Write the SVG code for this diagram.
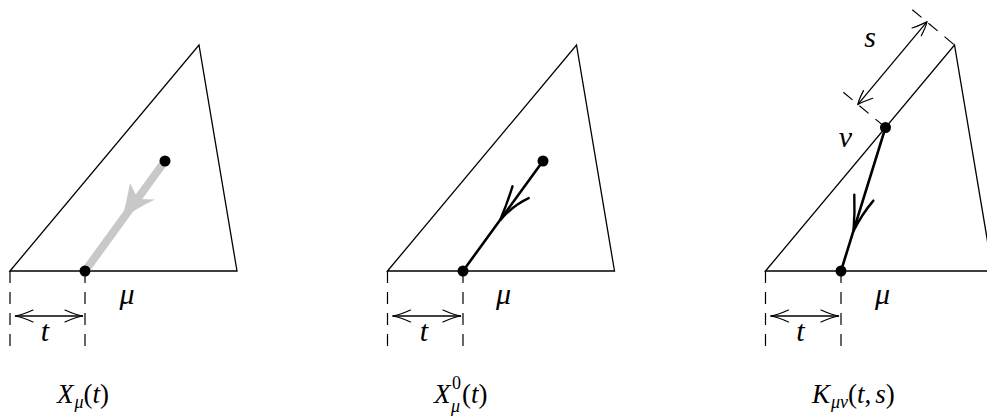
<svg xmlns="http://www.w3.org/2000/svg" width="987" height="417" viewBox="0 0 987 417">
<style>
.thin{fill:none;stroke:#000;stroke-width:1.3}
.dash{fill:none;stroke:#000;stroke-width:1.2;stroke-dasharray:12 9}
.thick{fill:none;stroke:#000;stroke-width:2.6;stroke-linecap:round}
.barb{fill:none;stroke:#000;stroke-width:1.2;stroke-linecap:round}
.hbarb{fill:none;stroke:#000;stroke-width:2.4;stroke-linecap:round}
.dot{fill:#000}
.lbl{font-family:"Liberation Serif","DejaVu Serif",serif;font-size:30px;fill:#000}
.cap{font-family:"Liberation Serif","DejaVu Serif",serif;font-size:27px;fill:#000}
.it{font-style:italic}
.sub{font-size:18px;font-style:italic}
.sup{font-size:18px}
</style>

<g id="panel1">
  <polygon class="thin" points="10,271 199,45 237,271"/>
  <line class="dash" x1="10" y1="271" x2="10" y2="347"/>
  <line class="dash" x1="85" y1="271" x2="85" y2="347"/>
  <g id="t1">
    <line class="thin" x1="15" y1="316" x2="83" y2="316"/>
    <path class="barb" d="M33,310 Q22,315 15,316 Q22,317 33,322"/>
    <path class="barb" d="M65,310 Q76,315 83,316 Q76,317 65,322"/>
    <text class="lbl it" x="45" y="341" text-anchor="middle">t</text>
  </g>
  <text class="lbl it" x="127" y="304" text-anchor="middle">μ</text>
  <g id="grayarrow">
    <line x1="165" y1="161" x2="85" y2="271" stroke="#c8c8c8" stroke-width="8"/>
    <path d="M122,219 Q127,200 130,183 L138,199 L155,199.5 Q137,208 122,219 Z" fill="#c8c8c8"/>
  </g>
  <circle class="dot" cx="165" cy="161" r="5.5"/>
  <circle class="dot" cx="85" cy="271" r="5.5"/>
  <text class="cap" x="57" y="403"><tspan class="it">X</tspan><tspan class="sub" dx="1" dy="5">μ</tspan><tspan dy="-5">(</tspan><tspan class="it">t</tspan><tspan>)</tspan></text>
</g>

<g id="panel2">
  <polygon class="thin" points="387.5,271 576.5,45 614.5,271"/>
  <line class="dash" x1="387.5" y1="271" x2="387.5" y2="347"/>
  <line class="dash" x1="463" y1="271" x2="463" y2="347"/>
  <g id="t2">
    <line class="thin" x1="392.5" y1="316" x2="461" y2="316"/>
    <path class="barb" d="M410.5,310 Q399.5,315 392.5,316 Q399.5,317 410.5,322"/>
    <path class="barb" d="M443,310 Q454,315 461,316 Q454,317 443,322"/>
    <text class="lbl it" x="424" y="341" text-anchor="middle">t</text>
  </g>
  <text class="lbl it" x="503.5" y="304" text-anchor="middle">μ</text>
  <line class="thick" x1="543" y1="161" x2="463" y2="271"/>
  <path class="hbarb" d="M512.5,186.3 Q507,204 500,220.5 Q512,206 528.7,198.1"/>
  <circle class="dot" cx="543" cy="161" r="5.5"/>
  <circle class="dot" cx="463" cy="271" r="5.5"/>
  <text class="cap it" x="434" y="403">X</text>
  <text class="cap sup" x="452" y="389">0</text>
  <text class="cap sub" x="451" y="412">μ</text>
  <text class="cap" x="462" y="403">(<tspan class="it">t</tspan>)</text>
</g>

<g id="panel3">
  <polygon class="thin" points="765.5,271 954.5,45 992.5,271"/>
  <line class="dash" x1="765.5" y1="271" x2="765.5" y2="347"/>
  <line class="dash" x1="841" y1="271" x2="841" y2="347"/>
  <g id="t3">
    <line class="thin" x1="770.5" y1="316" x2="839" y2="316"/>
    <path class="barb" d="M788.5,310 Q777.5,315 770.5,316 Q777.5,317 788.5,322"/>
    <path class="barb" d="M821,310 Q832,315 839,316 Q832,317 821,322"/>
    <text class="lbl it" x="800.5" y="341" text-anchor="middle">t</text>
  </g>
  <text class="lbl it" x="882.5" y="304" text-anchor="middle">μ</text>
  <g id="s-dim">
    <line class="dash" x1="912.3" y1="9.7" x2="954.5" y2="45"/>
    <line class="dash" x1="843.3" y1="92.2" x2="885.5" y2="127.5"/>
    <line class="thin" x1="926.9" y1="21.9" x2="857.9" y2="104.4"/>
    <path class="barb" d="M912.1,28 Q922,24.5 926.9,21.9 Q925.7,27.4 921.3,35.7"/>
    <path class="barb" d="M872.7,98.3 Q862.8,101.8 857.9,104.4 Q859.1,98.9 863.5,90.6"/>
    <text class="lbl it" x="870" y="47" text-anchor="middle">s</text>
  </g>
  <text class="lbl it" x="845.5" y="147" text-anchor="middle">ν</text>
  <line class="thick" x1="885.5" y1="127.5" x2="841" y2="271"/>
  <path class="hbarb" d="M854.3,194.6 Q855,213 853.5,231 Q862,214 873.4,200.6"/>
  <circle class="dot" cx="885.5" cy="127.5" r="5.5"/>
  <circle class="dot" cx="841" cy="271" r="5.5"/>
  <text class="cap" x="812" y="403"><tspan class="it">K</tspan><tspan class="sub" dx="1" dy="5">μν</tspan><tspan dy="-5">(</tspan><tspan class="it">t</tspan><tspan>,</tspan><tspan class="it" dx="4">s</tspan><tspan>)</tspan></text>
</g>
</svg>
